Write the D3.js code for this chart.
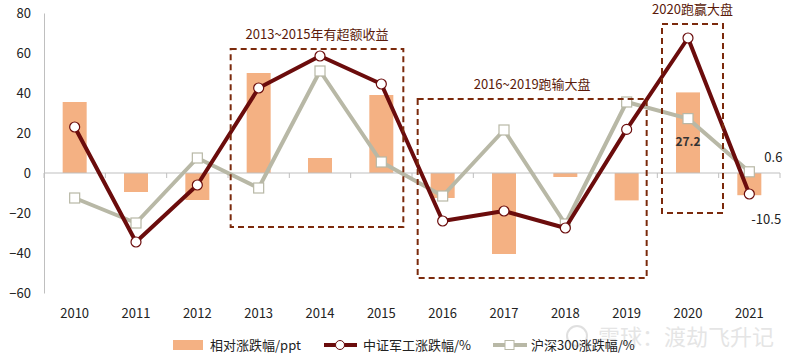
<!DOCTYPE html>
<html>
<head>
<meta charset="utf-8">
<script src="https://cdn.jsdelivr.net/npm/d3@7"></script>
<style>
  body { margin: 0; background: #fff; }
  text { font-family: "Noto Sans CJK SC", "Noto Sans", sans-serif; }
</style>
</head>
<body>
<svg id="chart" width="800" height="361"></svg>
<script>
// data
const years = ['2010', '2011', '2012', '2013', '2014', '2015', '2016', '2017', '2018', '2019', '2020', '2021'];
const relative = [35.5, -9.5, -13.5, 50, 7.5, 39, -12.5, -40.5, -2, -13.7, 40.3, -11.1];
const military = [23, -34.5, -6, 42.5, 58.5, 44.5, -24, -19, -27.5, 21.8, 67.5, -10.5];
const hs300 = [-12.5, -25, 7.5, -7.5, 51, 5.5, -11.5, 21.5, -25.5, 35.5, 27.2, 0.6];
const yTicks = [-60, -40, -20, 0, 20, 40, 60, 80];
const seriesNames = ['相对涨跌幅/ppt', '中证军工涨跌幅/%', '沪深300涨跌幅/%'];

const colBar = '#f4b183', colMil = '#6b0c0c', colHs = '#b8b8a6', colBox = '#7b2a0c';

const svg = d3.select('#chart');
const plotL = 44, plotR = 780, plotT = 13, plotB = 293;

const x = d3.scaleBand().domain(years).range([plotL, plotR]);
const y = d3.scaleLinear().domain([-60, 80]).range([plotB, plotT]);
const cx = d => x(d) + x.bandwidth() / 2;

// watermark (behind everything)
const wm = svg.append('g').attr('opacity', 0.3);
wm.append('circle').attr('cx', 577).attr('cy', 336).attr('r', 10)
  .attr('fill', 'none').attr('stroke', '#999').attr('stroke-width', 2);
wm.append('text').attr('x', 598).attr('y', 345).attr('font-size', 22)
  .attr('fill', '#aaa').text('雪球：渡劫飞升记');

// y axis
const yAxis = svg.append('g')
  .attr('transform', 'translate(' + plotL + ',0)')
  .call(d3.axisLeft(y).tickValues(yTicks).tickSize(0).tickPadding(13));
yAxis.select('.domain').attr('stroke', '#bfbfbf').attr('stroke-width', 1);
yAxis.selectAll('text').attr('font-size', 13).attr('fill', '#222');

// bars
svg.append('g').selectAll('rect')
  .data(relative)
  .enter()
  .append('rect')
  .attr('x', (d, i) => cx(years[i]) - 12)
  .attr('width', 24)
  .attr('y', d => y(Math.max(0, d)))
  .attr('height', d => Math.abs(y(d) - y(0)))
  .attr('fill', colBar);

// zero line with category ticks
const xAxis = svg.append('g')
  .attr('transform', 'translate(0,' + y(0) + ')');
xAxis.append('line')
  .attr('x1', plotL).attr('x2', plotR)
  .attr('stroke', '#bfbfbf').attr('stroke-width', 1);
xAxis.selectAll('.tk')
  .data(years.concat(['end']))
  .enter()
  .append('line')
  .attr('x1', (d, i) => plotL + i * x.step())
  .attr('x2', (d, i) => plotL + i * x.step())
  .attr('y1', 0).attr('y2', 5)
  .attr('stroke', '#bfbfbf');

// year labels
svg.append('g').selectAll('text')
  .data(years)
  .enter()
  .append('text')
  .attr('x', d => cx(d))
  .attr('y', 318)
  .attr('text-anchor', 'middle')
  .attr('font-size', 13)
  .attr('fill', '#222')
  .text(d => d);

const line = d3.line().x((d, i) => cx(years[i])).y(d => y(d));

// HS300 line
svg.append('path')
  .datum(hs300)
  .attr('d', line)
  .attr('fill', 'none')
  .attr('stroke', colHs)
  .attr('stroke-width', 4)
  .attr('stroke-linejoin', 'round');
svg.append('g').selectAll('rect')
  .data(hs300)
  .enter()
  .append('rect')
  .attr('x', (d, i) => cx(years[i]) - 5)
  .attr('y', d => y(d) - 5)
  .attr('width', 10).attr('height', 10)
  .attr('fill', '#fff')
  .attr('stroke', colHs).attr('stroke-width', 1.2);

// military line
svg.append('path')
  .datum(military)
  .attr('d', line)
  .attr('fill', 'none')
  .attr('stroke', colMil)
  .attr('stroke-width', 4)
  .attr('stroke-linejoin', 'round');
svg.append('g').selectAll('circle')
  .data(military)
  .enter()
  .append('circle')
  .attr('cx', (d, i) => cx(years[i]))
  .attr('cy', d => y(d))
  .attr('r', 5)
  .attr('fill', '#fff')
  .attr('stroke', colMil).attr('stroke-width', 1.2);

// dashed annotation boxes: first/last category, y range, label
const boxes = [
  { from: '2013', to: '2015', y0: 62, y1: -27, padL: -28, padR: 22, label: '2013~2015年有超额收益' },
  { from: '2016', to: '2019', y0: 37, y1: -52.5, padL: -25, padR: 20, label: '2016~2019跑输大盘' },
  { from: '2020', to: '2020', y0: 74.5, y1: -20, padL: -26, padR: 35, label: '2020跑赢大盘' }
];
const bg = svg.append('g');
boxes.forEach(b => {
  const x0 = cx(b.from) + b.padL;
  const x1 = cx(b.to) + b.padR;
  bg.append('rect')
    .attr('x', x0).attr('y', y(b.y0))
    .attr('width', x1 - x0)
    .attr('height', y(b.y1) - y(b.y0))
    .attr('fill', 'none')
    .attr('stroke', colBox)
    .attr('stroke-width', 2)
    .attr('stroke-dasharray', '6,4');
  bg.append('text')
    .attr('x', (x0 + x1) / 2)
    .attr('y', y(b.y0) - 10)
    .attr('text-anchor', 'middle')
    .attr('font-size', 13)
    .attr('fill', '#5a1a0a')
    .text(b.label);
});

// value labels
const last = years.length - 1;
svg.append('text')
  .attr('x', cx(years[10])).attr('y', y(hs300[10]) + 27)
  .attr('text-anchor', 'middle')
  .attr('font-size', 12).attr('font-weight', 'bold').attr('fill', '#333')
  .text(hs300[10].toFixed(1));
svg.append('text')
  .attr('x', cx(years[last]) + 15).attr('y', y(hs300[last]) - 10)
  .attr('font-size', 13).attr('fill', '#222')
  .text(hs300[last].toFixed(1));
svg.append('text')
  .attr('x', cx(years[last]) + 2).attr('y', y(military[last]) + 30)
  .attr('font-size', 13).attr('fill', '#222')
  .text(military[last].toFixed(1));

// legend
const lg = svg.append('g').attr('transform', 'translate(0,345)');
lg.append('rect').attr('x', 173).attr('y', -5).attr('width', 30).attr('height', 10).attr('fill', colBar);
lg.append('text').attr('x', 210).attr('y', 5).attr('font-size', 13).attr('fill', '#222').text(seriesNames[0]);
lg.append('line').attr('x1', 324).attr('x2', 357).attr('stroke', colMil).attr('stroke-width', 4);
lg.append('circle').attr('cx', 340).attr('cy', 0).attr('r', 4.5).attr('fill', '#fff').attr('stroke', colMil);
lg.append('text').attr('x', 363).attr('y', 5).attr('font-size', 13).attr('fill', '#222').text(seriesNames[1]);
lg.append('line').attr('x1', 493).attr('x2', 527).attr('stroke', colHs).attr('stroke-width', 4);
lg.append('rect').attr('x', 505).attr('y', -4.5).attr('width', 9).attr('height', 9).attr('fill', '#fff').attr('stroke', colHs);
lg.append('text').attr('x', 531).attr('y', 5).attr('font-size', 13).attr('fill', '#222').text(seriesNames[2]);
</script>
</body>
</html>
